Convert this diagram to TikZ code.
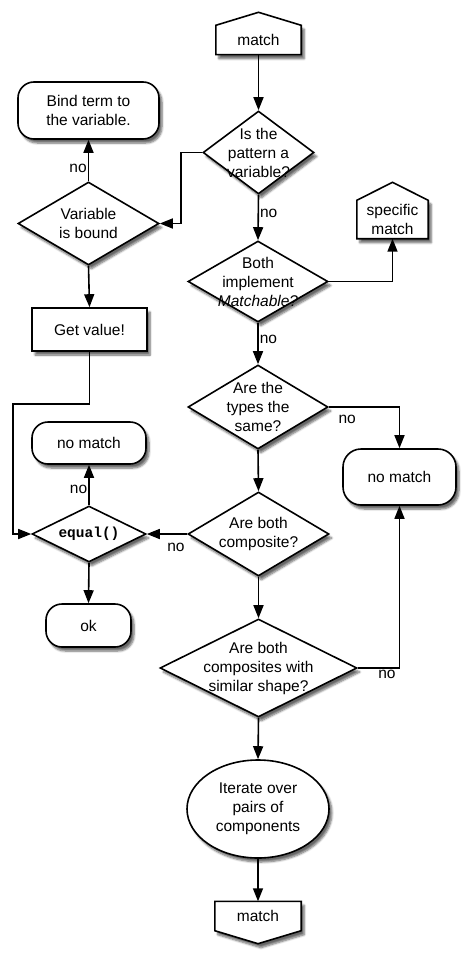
\documentclass[tikz,border=0pt]{standalone}
\usepackage{fontspec}
\setmainfont{Liberation Sans}
\setmonofont{Liberation Mono}
\usetikzlibrary{shapes.geometric,arrows.meta,shadows.blur,backgrounds}
\begin{document}
\begin{tikzpicture}[x=1pt,y=-1pt,
  every node/.style={font=\fontsize{15.5}{19}\selectfont},
  shd/.style={blur shadow={shadow xshift=3pt,shadow yshift=-4pt,shadow blur steps=6,shadow opacity=60}},
  base/.style={draw,line width=1.6pt,fill=white,shd,inner sep=0pt,align=center},
  dia/.style={base,diamond,minimum width=#1},
  rnd/.style={base,rectangle,rounded corners=16pt},
  box/.style={base,rectangle},
  hbody/.style={rectangle,inner sep=0pt,align=center},
  hpath/.style={draw,line width=1.6pt,fill=white,shd,line join=miter},
  arr/.style={line width=1.6pt,-{Triangle[length=13pt,width=10pt]}},
  lbl/.style={inner sep=1pt}
]
\useasboundingbox (0,0) rectangle (474,966);

% house-shaped terminals (bodies)
\node[hbody,minimum width=85pt,minimum height=29pt] (m1) at (258.5,40) {match};
\node[hbody,minimum width=71pt,minimum height=38pt] (sm) at (392.5,219.5) {specific\\match};
\node[hbody,minimum width=86pt,minimum height=29pt] (m2) at (258,916) {match};

% diamonds
\node[dia=111pt,minimum height=83pt,label={[align=center]center:Is the\\pattern a\\variable?}] (d1) at (258.5,152.5) {};
\node[dia=141pt,minimum height=83pt,label={[align=center]center:Variable\\is bound}] (d2) at (88.5,223.5) {};
\node[dia=140pt,minimum height=81pt,label={[align=center]center:Both\\implement\\\textit{Matchable?}}] (d3) at (258,281.5) {};
\node[dia=140pt,minimum height=84pt,label={[align=center]center:Are the\\types the\\same?}] (d4) at (258,407) {};
\node[dia=141pt,minimum height=84pt,label={[align=center]center:Are both\\composite?}] (d5) at (258.5,534) {};
\node[dia=114pt,minimum height=56pt,label={[align=center,font=\fontsize{14.5}{17}\selectfont\ttfamily\bfseries]center:equal()}] (eq) at (89,534) {};
\node[dia=197pt,minimum height=98pt,label={[align=center]center:Are both\\composites with\\similar shape?}] (d6) at (258.5,668) {};

% boxes
\node[rnd,minimum width=141pt,minimum height=57pt] (bind) at (88.5,110.5) {Bind term to\\the variable.};
\node[box,minimum width=115pt,minimum height=43pt] (get) at (89.5,329.5) {Get value!};
\node[rnd,minimum width=114pt,minimum height=42pt] (nml) at (89,443) {no match};
\node[rnd,minimum width=113pt,minimum height=56pt,rounded corners=18pt] (nmr) at (399.5,477) {no match};
\node[rnd,minimum width=85pt,minimum height=43pt] (ok) at (88.5,625.5) {ok};
\node[base,ellipse,minimum width=142pt,minimum height=98pt] (it) at (258,809) {Iterate over\\pairs of\\components};

\begin{scope}[on background layer]
\draw[hpath] (m1.south west) -- (m1.north west) -- ([yshift=13pt]m1.north) -- (m1.north east) -- (m1.south east) -- cycle;
\draw[hpath] (sm.south west) -- (sm.north west) -- ([yshift=18pt]sm.north) -- (sm.north east) -- (sm.south east) -- cycle;
\draw[hpath] (m2.north west) -- (m2.south west) -- ([yshift=-13pt]m2.south) -- (m2.south east) -- (m2.north east) -- cycle;
\end{scope}

% connectors
\draw[arr] (m1.south) -- (d1.north);
\draw[arr] (d1.west) -- ++(-21,0) |- (d2.east);
\draw[arr] (d2.north) -- node[lbl,left,pos=0.3] {no} (bind.south);
\draw[arr] (d2.south) -- (get.north);
\draw[arr] (get.south) |- (13,404) |- (eq.west);
\draw[arr] (d1.south) -- node[lbl,right,pos=0.4] {no} (d3.north);
\draw[arr] (d3.east) -| (sm.south);
\draw[arr] (d3.south) -- node[lbl,right,pos=0.4] {no} (d4.north);
\draw[arr] (d4.east) -| node[lbl,below,pos=0.13,yshift=-6pt] {no} (nmr.north);
\draw[arr] (d4.south) -- (d5.north);
\draw[arr] (d5.west) -- node[lbl,below,pos=0.28,yshift=-7pt] {no} (eq.east);
\draw[arr] (eq.north) -- node[lbl,left,pos=0.4] {no} (nml.south);
\draw[arr] (eq.south) -- (ok.north);
\draw[arr] (d5.south) -- (d6.north);
\draw[arr] (d6.east) -| node[lbl,below,pos=0.35] {no} (nmr.south);
\draw[arr] (d6.south) -- (it.north);
\draw[arr] (it.south) -- (m2.north);
\end{tikzpicture}
\end{document}
